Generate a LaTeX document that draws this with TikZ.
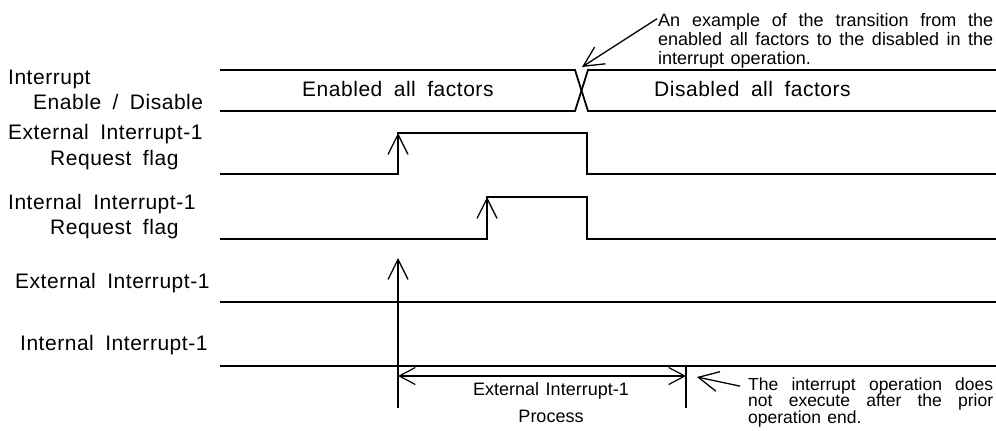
\documentclass[tikz,border=0pt]{standalone}
\usepackage{fontspec}
\setmainfont{Liberation Sans}
\newfontfamily\tdFont[LetterSpace=2.5,WordSpace=1.8]{Liberation Sans}
\newfontfamily\tdNoteFont[WordSpace=1.3]{Liberation Sans}
\usetikzlibrary{arrows.meta,positioning,calc}
\tikzset{
    tdLabel/.style={
        anchor=base west,
        inner sep=0pt,
        font=\tdFont\fontsize{21}{24}\selectfont
    },
    tdNote/.style={
        anchor=base west,
        inner sep=0pt,
        align=justify,
        font=\tdNoteFont\fontsize{18}{19.5}\selectfont
    },
    % Signals
    tdWave/.style={line width=1.8pt, line join=miter},
    tdLine/.style={line width=1.2pt},
    % Arrows
    tdArrow/.style={-{Straight Barb[length=20pt,width=20pt,line width=1.3pt]}, line width=1.3pt},
    tdDim/.style={{Straight Barb[length=16pt,width=17pt,line width=1.2pt]}-{Straight Barb[length=16pt,width=17pt,line width=1.2pt]}, line width=1.2pt}
}
\begin{document}
\begin{tikzpicture}[x=1pt, y=-1pt]
\useasboundingbox (0,0) rectangle (996,431);

% signal names
\node[tdLabel] (busName) at (8,84) {Interrupt};
\node[tdLabel] (busSub) at (33,109) {Enable / Disable};
\node[tdLabel] (extFlagName) at (8,139) {External Interrupt-1};
\node[tdLabel] (extFlagSub) at (50,165) {Request flag};
\node[tdLabel] (intFlagName) at (8,209) {Internal Interrupt-1};
\node[tdLabel] (intFlagSub) at (50,234) {Request flag};
\node[tdLabel] (extProcName) at (15,288) {External Interrupt-1};
\node[tdLabel] (intProcName) at (20,350) {Internal Interrupt-1};

% interrupt enable / disable bus
\draw[tdWave] (220,70) -- (575,70) -- (588,111) -- (996,111);
\draw[tdWave] (220,111) -- (575,111) -- (588,70) -- (996,70);
\coordinate (busX) at (582,67);
\node[tdLabel] (busEnabled) at (302,96) {Enabled all factors};
\node[tdLabel] (busDisabled) at (654,96) {Disabled all factors};

% request flags
\draw[tdWave] (220,174) -- (398,174) -- (398,133) -- (587,133) -- (587,174) -- (996,174);
\draw[tdWave] (220,239) -- (487,239) -- (487,197) -- (587,197) -- (587,239) -- (996,239);
\coordinate (extRise) at (398,133);
\coordinate (intRise) at (487,197);
\draw[tdArrow] (398,170) -- (extRise);
\draw[tdArrow] (487,235) -- (intRise);

% interrupt processes
\draw[tdWave] (220,302) -- (996,302);
\draw[tdWave] (220,366) -- (996,366);

\coordinate (reqFoot) at (398,408);
\coordinate (reqHead) at (398,258);
\draw[tdArrow] (reqFoot) -- (reqHead);

\coordinate (procEnd) at (686,376);
\coordinate (procStart) at (398,376);
\draw[tdLine] (686,366) -- (686,408);
\draw[tdDim] (procStart) -- (procEnd);
\node[anchor=north, inner sep=0pt, align=center,
      font=\tdNoteFont\fontsize{18}{27}\selectfont] (procText) at (551,382)
      {External Interrupt-1\\Process};

% notes
\node[tdNote, text width=335pt] (noteTop) at (658,26)
    {An example of the transition from the\linebreak
     enabled all factors to the disabled in the\linebreak
     interrupt operation.};
\draw[tdArrow] ($(noteTop.north west)+(-1,6)$) -- (busX);

\node[tdNote, text width=245pt, font=\tdNoteFont\fontsize{17.5}{16.5}\selectfont] (noteEnd) at (748,390)
    {The interrupt operation does\linebreak
     not execute after the prior\linebreak
     operation end.};
\draw[tdArrow] ($(noteEnd.north west)+(-8,9)$) -- (697,377);
\end{tikzpicture}
\end{document}
